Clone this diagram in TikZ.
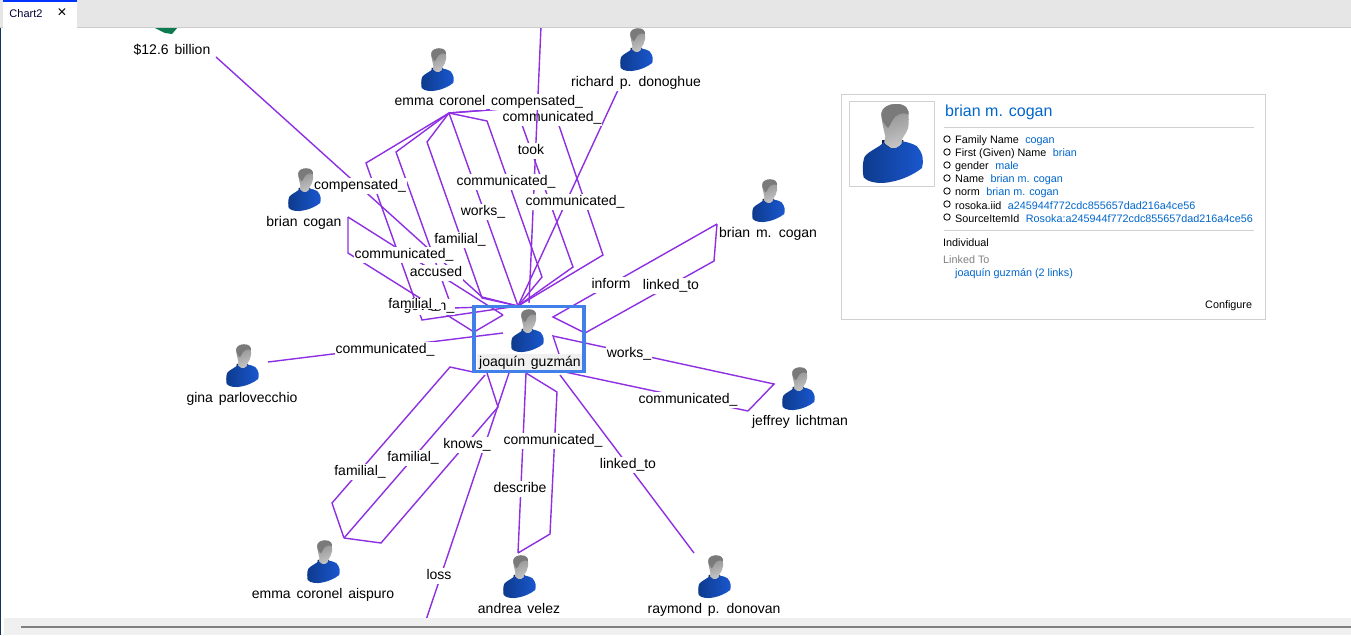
\documentclass[tikz,border=0pt]{standalone}
\usepackage{fontspec}
\setmainfont{Liberation Sans}[WordSpace=1.5]
\newfontfamily\panelfont{Liberation Sans}
\usepackage{xcolor}
\usetikzlibrary{positioning}
\definecolor{linkpurple}{RGB}{142,48,226}
\definecolor{boxblue}{RGB}{64,128,232}
\definecolor{valueblue}{RGB}{0,102,204}
\definecolor{barback}{RGB}{230,230,230}
\definecolor{panelline}{RGB}{208,208,208}
\definecolor{bodydark}{RGB}{13,58,140}
\definecolor{bodylight}{RGB}{26,88,208}
\definecolor{moneygreen}{RGB}{14,122,80}
\definecolor{edgenavy}{RGB}{20,50,90}

% little man, drawn in units of the big one, scale it when placing
\tikzset{
  person/.pic={
    \fill[bodydark!50!black] (-30,-12) -- (34,-12) -- (34,6) -- (5,24) -- (-30,6) -- cycle;
    \path[left color=black!45, right color=black!22, shading angle=20]
      (10,-120) .. controls (45,-122) and (52,-100) .. (50,-60)
      .. controls (50,-40) and (38,-30) .. (30,-14)
      -- (30,0) -- (5,18) -- (-24,-3) -- (-20,-22)
      .. controls (-26,-50) and (-32,-70) .. (-32,-92)
      .. controls (-30,-110) and (-10,-120) .. (10,-120) -- cycle;
    \fill[black!52] (10,-120) .. controls (45,-122) and (52,-100) .. (50,-88)
      .. controls (30,-98) and (10,-88) .. (2,-72)
      .. controls (-2,-62) and (-8,-55) .. (-12,-48)
      .. controls (-24,-60) and (-32,-70) .. (-32,-92)
      .. controls (-30,-110) and (-10,-120) .. (10,-120) -- cycle;
    \path[left color=bodydark, right color=bodylight]
      (-24,-6) .. controls (-34,8) and (-72,22) .. (-82,38)
      .. controls (-90,55) and (-88,90) .. (-85,100)
      .. controls (-70,118) and (-30,120) .. (-5,114)
      .. controls (30,108) and (65,92) .. (90,72)
      .. controls (96,50) and (94,28) .. (74,6)
      .. controls (60,-2) and (45,-6) .. (30,-8)
      .. controls (32,12) and (-10,26) .. (-24,-6) -- cycle;
  }
}

\begin{document}
\begin{tikzpicture}[x=1pt, y=-1pt, font=\fontsize{14}{16}\selectfont]
    \tikzstyle{link} = [draw=linkpurple, line width=1.4pt, line join=miter]
    \tikzstyle{lbl} = [fill=white, inner xsep=1pt, inner ysep=1pt, text height=10.5pt, text depth=3pt, yshift=-2pt]
    \tikzstyle{who} = [fill=white, inner xsep=1pt, inner ysep=1pt, text height=10.5pt, text depth=3pt, yshift=-2pt]
    \tikzstyle{smallman} = [scale=0.18]
    \tikzstyle{rule} = [draw=panelline, line width=1pt]
    \tikzstyle{info} = [anchor=west, inner sep=0pt, font=\panelfont\fontsize{10.8}{13}\selectfont]

    \useasboundingbox (0,0) rectangle (1351,635);
    \fill[white] (0,0) rectangle (1351,635);

    % Where the links meet
    \coordinate (hubTop) at (518,306);
    \coordinate (hubMid) at (529,303);
    \coordinate (hubWest) at (503,333);
    \coordinate (hubLow) at (503,315);
    \coordinate (hubEast) at (585,333);
    \coordinate (hubInE) at (553,317);
    \coordinate (hubSE) at (565,372);
    \coordinate (hubS1) at (473,372);
    \coordinate (hubS2) at (485,375);
    \coordinate (hubS3) at (487,373);
    \coordinate (hubS4) at (509,373);
    \coordinate (hubS5) at (526,373);
    \coordinate (hubS6) at (560,375);

    % Link ends at the other people
    \coordinate (emmaFan) at (449,113);
    \coordinate (coganEnd) at (348,217);
    \coordinate (billionEnd) at (216,57);
    \coordinate (richardEnd) at (618,90);
    \coordinate (offTop) at (541,26);
    \coordinate (offLow) at (426,620);
    \coordinate (mcoganEnd) at (717,224);
    \coordinate (jeffreyEnd) at (748,411);
    \coordinate (ginaEnd) at (268,362);
    \coordinate (aispuroEnd) at (344,538);
    \coordinate (andreaEnd) at (518,553);
    \coordinate (raymondEnd) at (694,553);

    % Links, top
    \draw[link] (billionEnd) -- (482,297) -- (hubTop);
    \draw[link] (richardEnd) -- (hubTop);
    \draw[link] (emmaFan) -- (552,105) -- (603,255) -- (hubTop);
    \draw[link] (emmaFan) -- (516,108) -- (573,267) -- (hubTop);
    \draw[link] (emmaFan) -- (487,121) -- (542,277) -- (hubTop);
    \draw[link] (emmaFan) -- (hubTop);
    \draw[link] (emmaFan) -- (427,142) -- (482,298) -- (hubTop);
    \draw[link] (emmaFan) -- (396,152) -- (452,308) -- (hubTop);
    \draw[link] (emmaFan) -- (366,163) -- (422,320) -- (hubTop);
    \draw[link] (coganEnd) -- (hubLow);
    \draw[link] (coganEnd) -- (348,253) -- (474,332) -- (hubLow);
    \node[lbl] (lCommTop) at (552,116) {communicated\_};
    \draw[link] (offTop) -- (hubMid);

    % Links, right
    \draw[link] (mcoganEnd) -- (hubInE) -- (hubEast);
    \draw[link] (mcoganEnd) -- (714,261) -- (hubEast);
    \draw[link] (jeffreyEnd) -- (774,384) -- (553,336) -- (hubSE);
    \draw[link] (jeffreyEnd) -- (hubSE);

    % Links, left and below
    \draw[link] (ginaEnd) -- (hubWest);
    \draw[link] (aispuroEnd) -- (332,503) -- (450,367) -- (hubS1);
    \draw[link] (aispuroEnd) -- (hubS2);
    \draw[link] (aispuroEnd) -- (381,543) -- (498,407) -- (hubS3);
    \draw[link] (hubS4) -- (offLow);
    \draw[link] (andreaEnd) -- (hubS5);
    \draw[link] (andreaEnd) -- (550,534) -- (557,392) -- (hubS5);
    \draw[link] (raymondEnd) -- (hubS6);

    % Link labels
    \node[lbl] (lCompTop) at (537,100) {compensated\_};
    \node[lbl] (lTook) at (531,149) {took};
    \node[lbl] (lCommMid) at (506,180) {communicated\_};
    \node[lbl] (lCommRich) at (575,200) {communicated\_};
    \node[lbl] (lComp) at (360,184) {compensated\_};
    \node[lbl] (lWorks) at (483,210) {works\_};
    \node[lbl] (lFamTop) at (460,238) {familial\_};
    \node[lbl] (lCommCog) at (404,253) {communicated\_};
    \node[lbl] (lAccused) at (436,271) {accused};
    \node[lbl] (lInform) at (611,283) {inform};
    \node[lbl] (lLinkedUp) at (671,284) {linked\_to};
    \node[lbl] (lGovern) at (429,305) {govern\_};
    \node[lbl, text depth=0.5pt, inner ysep=0pt] (lFamCog) at (414,301) {familial\_};
    \node[lbl] (lCommGina) at (385,348) {communicated\_};
    \node[lbl] (lWorksJ) at (629,352) {works\_};
    \node[lbl] (lCommJ) at (688,398) {communicated\_};
    \node[lbl] (lKnows) at (467,443) {knows\_};
    \node[lbl] (lCommA) at (553,439) {communicated\_};
    \node[lbl] (lFam2) at (413,456) {familial\_};
    \node[lbl] (lFam1) at (360,470) {familial\_};
    \node[lbl] (lLinkedLow) at (628,463) {linked\_to};
    \node[lbl] (lDescribe) at (520,487) {describe};
    \node[lbl] (lLoss) at (439,574) {loss};

    % People
    \fill[moneygreen] (153,27) -- (178,27) -- (172,34) -- (165,33) -- cycle;
    \node[who] (billion) at (172,49) {\$12.6 billion};
    \pic[smallman] at (437,70) {person};
    \node[who] (emma) at (440,100) {emma coronel};
    \pic[smallman] at (636,50) {person};
    \node[who] (richard) at (636,81) {richard p. donoghue};
    \pic[smallman] at (304,190) {person};
    \node[who] (cogan) at (304,221) {brian cogan};
    \pic[smallman] at (768,201) {person};
    \node[who] (mcogan) at (768,232) {brian m. cogan};
    \pic[smallman] at (242,366) {person};
    \node[who] (gina) at (242,397) {gina parlovecchio};
    \pic[smallman] at (798,389) {person};
    \node[who] (jeffrey) at (800,420) {jeffrey lichtman};
    \pic[smallman] at (323,562) {person};
    \node[who] (aispuro) at (323,593) {emma coronel aispuro};
    \pic[smallman] at (519,577) {person};
    \node[who] (andrea) at (519,608) {andrea velez};
    \pic[smallman] at (714,577) {person};
    \node[who] (raymond) at (714,608) {raymond p. donovan};

    % Selected one
    \node[who, fill=black!6, minimum width=106pt, minimum height=18pt] (joaquin) at (530,361) {joaquín guzmán};
    \pic[smallman] at (527,331) {person};
    \node[draw=boxblue, line width=3.5pt, minimum width=110pt, minimum height=65pt, inner sep=0pt] (selbox) at (529,339) {};

    % Info panel
    \node[draw=panelline, line width=1pt, minimum width=424pt, minimum height=225pt, inner sep=0pt] (panel) at (1053,206.5) {};
    \node[draw=panelline, line width=1pt, minimum width=85pt, minimum height=85pt, inner sep=0pt] (portrait) at (892,144) {};
    \pic[scale=0.333] at (892,144) {person};
    \node[anchor=west, inner sep=0pt, text=valueblue, font=\panelfont\fontsize{16}{18}\selectfont] (title) at (945,112.5) {brian m. cogan};
    \coordinate (ruleA) at (944,127);
    \coordinate (ruleB) at (1254,127);
    \draw[rule] (ruleA) -- (ruleB);
    \foreach \y/\k/\v in {139/{Family Name}/cogan, 152/{First (Given) Name}/brian, 165/gender/male, 178/Name/{brian m. cogan}, 191/norm/{brian m. cogan}, 204/rosoka.iid/a245944f772cdc855657dad216a4ce56, 217/SourceItemId/Rosoka:a245944f772cdc855657dad216a4ce56} {
        \node[draw=black, line width=0.8pt, circle, minimum size=6.5pt, inner sep=0pt] (dot\y) at (947,\y) {};
        \node[info, yshift=-1.5pt] (row\y) at (955,\y) {\k\hspace{6.5pt}\textcolor{valueblue}{\v}};
    }
    \coordinate (ruleC) at (944,230);
    \coordinate (ruleD) at (1254,230);
    \draw[rule] (ruleC) -- (ruleD);
    \node[info, yshift=-1pt] (kind) at (943,242) {Individual};
    \node[info, text=black!50, yshift=-1pt] (linked) at (943,259) {Linked To};
    \node[info, text=valueblue, yshift=-1.5pt] (linkrow) at (955,272) {joaquín guzmán (2 links)};
    \node[info, yshift=-1.5pt] (configure) at (1205,304) {Configure};

    % Window around the chart
    \fill[barback] (0,0) rectangle (1351,27);
    \fill[black!20] (0,27) rectangle (1351,28);
    \node[fill=white, minimum width=74pt, minimum height=27pt, inner sep=0pt] (tab) at (40,14.5) {};
    \fill[blue!80!cyan] (3,0) rectangle (77,1.5);
    \node[inner sep=0pt, font=\panelfont\fontsize{11}{13}\selectfont, text=black!80!blue] (tabname) at (26,14) {Chart2};
    \node[inner sep=0pt, font=\fontsize{16}{16}\selectfont] (tabclose) at (62,13) {×};
    \fill[black!6] (4,618) rectangle (1351,635);
    \fill[black!50] (21,626) rectangle (1351,628);
    \fill[edgenavy] (0,28) rectangle (1,635);
\end{tikzpicture}
\end{document}
